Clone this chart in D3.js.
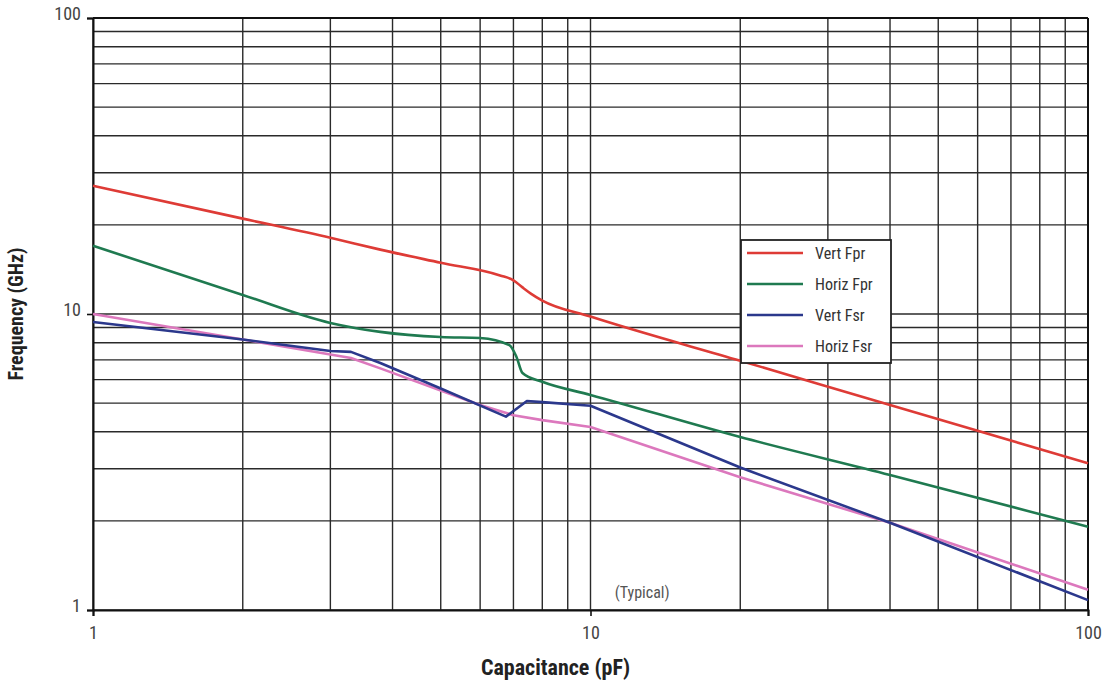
<!DOCTYPE html>
<html>
<head>
<meta charset="utf-8">
<script src="https://cdn.jsdelivr.net/npm/d3@7"></script>
<style>
  body { margin: 0; background: #fff; }
  text { font-family: "Liberation Sans Narrow", "Roboto Condensed", "Liberation Sans", Arial, sans-serif; }
</style>
</head>
<body>
<div id="chart-area"></div>
<script>
// data (capacitance pF, frequency GHz)
let seriesNames = ["Vert Fpr", "Horiz Fpr", "Vert Fsr", "Horiz Fsr"];
let seriesColors = ["#de3b36", "#1f7a50", "#2b388c", "#dc78bd"];

let capVertFpr  = [1, 2, 3, 3.78, 5, 6.58, 7, 7.3, 7.6, 8, 10, 20, 40, 100];
let freqVertFpr = [27.1, 21, 18.1, 16.5, 14.9, 13.5, 13.0, 12.3, 11.7, 11.1, 9.8, 6.95, 4.93, 3.13];

let capHorizFpr  = [1, 2, 3, 3.78, 5, 6, 6.87, 7.1, 7.3, 8, 10, 20, 40, 100];
let freqHorizFpr = [17, 11.6, 9.33, 8.7, 8.36, 8.3, 7.85, 7.16, 6.32, 5.9, 5.33, 3.84, 2.86, 1.91];

let capVertFsr  = [1, 2, 3, 3.3, 3.78, 5, 6.76, 7.45, 8, 10, 20, 40, 100];
let freqVertFsr = [9.4, 8.2, 7.5, 7.45, 6.83, 5.6, 4.5, 5.08, 5.04, 4.9, 3.03, 1.97, 1.08];

let capHorizFsr  = [1, 2, 3, 3.3, 3.78, 6, 7, 8, 10, 20, 40, 100];
let freqHorizFsr = [10, 8.2, 7.3, 7.1, 6.55, 4.93, 4.55, 4.38, 4.15, 2.81, 1.97, 1.17];

let xTickLabels = [1, 10, 100];
let yTickLabels = [1, 10, 100];

let margin = {top: 18, right: 16, bottom: 77, left: 93};
let width = 1104 - margin.left - margin.right;
let height = 687 - margin.top - margin.bottom;

let svg = d3.select("#chart-area").append("svg")
    .attr("width", 1104)
    .attr("height", 687)
  .append("g")
    .attr("transform", "translate(" + margin.left + "," + margin.top + ")");

let xScale = d3.scaleLog().domain([1, 100]).range([0, width]);
let yScale = d3.scaleLog().domain([1, 100]).range([height, 0]);

// grid
svg.append("g").selectAll("line")
  .data(xScale.ticks())
  .enter().append("line")
    .attr("x1", d => xScale(d)).attr("x2", d => xScale(d))
    .attr("y1", 0).attr("y2", height)
    .attr("stroke", "#2a2a2a").attr("stroke-width", 1.4);

svg.append("g").selectAll("line")
  .data(yScale.ticks())
  .enter().append("line")
    .attr("y1", d => yScale(d)).attr("y2", d => yScale(d))
    .attr("x1", 0).attr("x2", width)
    .attr("stroke", "#2a2a2a").attr("stroke-width", 1.4);

// axes
let xAxis = d3.axisBottom(xScale)
  .tickValues(xTickLabels)
  .tickSize(6)
  .tickFormat(d3.format("d"));
let yAxis = d3.axisLeft(yScale)
  .tickValues(yTickLabels)
  .tickSize(6)
  .tickFormat(d3.format("d"));

let xGroup = svg.append("g")
  .attr("transform", `translate(0,${height})`)
  .call(xAxis);
let yGroup = svg.append("g").call(yAxis);

[xGroup, yGroup].forEach(g => {
  g.select(".domain").attr("stroke", "#111").attr("stroke-width", 2);
  g.selectAll(".tick line").attr("stroke", "#111").attr("stroke-width", 1.6);
  g.selectAll(".tick text")
    .attr("fill", "#444")
    .style("font-size", "18px");
});
xGroup.selectAll(".tick text").attr("dy", "1.1em");
yGroup.selectAll(".tick text").attr("x", -12).attr("dy", "0.1em");

// top and right border
svg.append("line").attr("x1", 0).attr("x2", width).attr("y1", 0).attr("y2", 0)
  .attr("stroke", "#111").attr("stroke-width", 2);
svg.append("line").attr("x1", width).attr("x2", width).attr("y1", 0).attr("y2", height)
  .attr("stroke", "#111").attr("stroke-width", 2);

// axis titles
svg.append("text")
  .attr("x", width / 2 - 35)
  .attr("y", height + 65)
  .attr("text-anchor", "middle")
  .attr("fill", "#222")
  .style("font-size", "22px")
  .style("font-weight", "bold")
  .text("Capacitance (pF)");

svg.append("text")
  .attr("transform", `translate(${-70},${height / 2}) rotate(-90)`)
  .attr("text-anchor", "middle")
  .attr("fill", "#222")
  .style("font-size", "20px")
  .style("font-weight", "bold")
  .text("Frequency (GHz)");

svg.append("text")
  .attr("x", xScale(12.7))
  .attr("y", yScale(1.1))
  .attr("text-anchor", "middle")
  .attr("fill", "#555")
  .style("font-size", "16px")
  .text("(Typical)");

// lines
let caps = [capVertFpr, capHorizFpr, capVertFsr, capHorizFsr];
let freqs = [freqVertFpr, freqHorizFpr, freqVertFsr, freqHorizFsr];
let curves = [d3.curveMonotoneX, d3.curveMonotoneX, d3.curveLinear, d3.curveLinear];

let seriesData = seriesNames.map((name, i) => ({
  name: name,
  color: seriesColors[i],
  curve: curves[i],
  values: caps[i].map((c, j) => ({c: c, f: freqs[i][j]}))
}));

// draw pink first so blue sits on top like the original
[3, 2, 1, 0].forEach(i => {
  let s = seriesData[i];
  let line = d3.line()
    .x(d => xScale(d.c))
    .y(d => yScale(d.f))
    .curve(s.curve);
  svg.append("path")
    .datum(s.values)
    .attr("fill", "none")
    .attr("stroke", s.color)
    .attr("stroke-width", 2.6)
    .attr("stroke-linejoin", "round")
    .attr("d", line);
});

// legend
let legend = svg.append("g")
  .attr("transform", `translate(${741 - margin.left},${240 - margin.top})`);

legend.append("rect")
  .attr("width", 150).attr("height", 123)
  .attr("fill", "#fff")
  .attr("stroke", "#222").attr("stroke-width", 1.8);

seriesData.forEach((s, i) => {
  let yy = 13 + i * 31;
  legend.append("line")
    .attr("x1", 6).attr("x2", 62)
    .attr("y1", yy).attr("y2", yy)
    .attr("stroke", s.color).attr("stroke-width", 2.6);
  legend.append("text")
    .attr("x", 74).attr("y", yy + 6)
    .attr("fill", "#333")
    .style("font-size", "16px")
    .text(s.name);
});
</script>
</body>
</html>
